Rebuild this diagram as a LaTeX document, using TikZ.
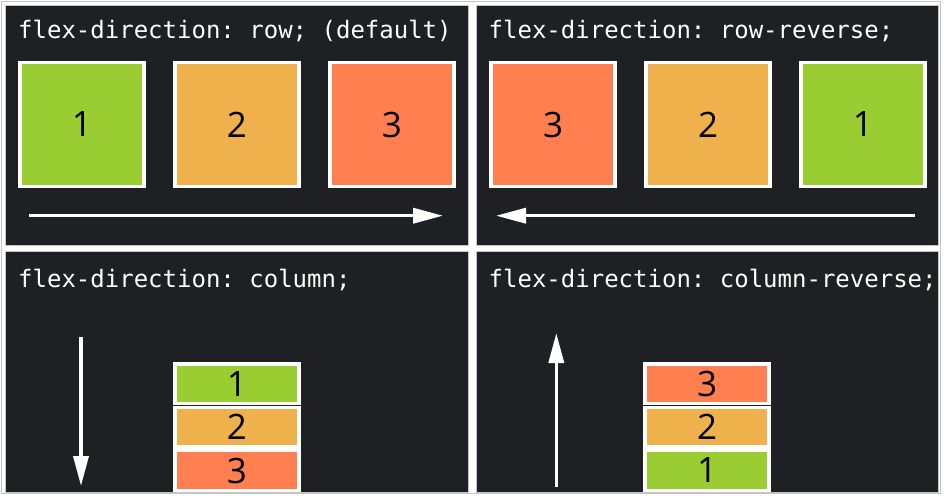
\documentclass[tikz,border=0pt]{standalone}
\usepackage{fontspec}
\setmonofont{DejaVu Sans Mono}
\newfontfamily\digitfont{Open Sans}
\usetikzlibrary{arrows.meta}
\definecolor{panelbg}{HTML}{1F2023}
\definecolor{framegray}{HTML}{C4C4C4}
\definecolor{cgreen}{HTML}{9ACD32}
\definecolor{corange}{HTML}{EEB14C}
\definecolor{ccoral}{HTML}{FF7F50}
\begin{document}
\begin{tikzpicture}[x=1pt,y=-1pt,
  panel/.style={fill=panelbg, draw=framegray, line width=0.8pt},
  box/.style={draw=white, line width=3.5pt, inner sep=0pt, text=black,
    font=\digitfont\fontsize{35}{40}\selectfont},
  sq/.style={box, minimum width=123.9pt, minimum height=123.9pt},
  bar/.style={box, minimum width=123.9pt, minimum height=39.8pt},
  title/.style={anchor=base west, inner sep=0pt, text=white,
    font=\ttfamily\fontsize{24}{28}\selectfont},
  flow/.style={draw=white, line width=3.5pt, -{Triangle[length=30pt,width=15pt]}}]
\fill[white] (0,0) rectangle (944,495);
\useasboundingbox (0,0) rectangle (944,495);
\draw[framegray, line width=1pt] (1.5,1.5) rectangle (940,493);
% panels
\draw[panel] (5,5) rectangle (468,245);
\draw[panel] (476,5) rectangle (938,245);
\draw[panel] (5,251) rectangle (468,492);
\draw[panel] (476,251) rectangle (938,492);
% titles
\node[title] (t1) at (18,39) {flex-direction: row; (default)};
\node[title] (t2) at (488.5,39) {flex-direction: row-reverse;};
\node[title] (t3) at (18,287) {flex-direction: column;};
\node[title] (t4) at (488.5,287) {flex-direction: column-reverse;};
% row
\node[sq, fill=cgreen]  (r1) at (82,124.5) {1};
\node[sq, fill=corange] (r2) at (237,124.5) {2};
\node[sq, fill=ccoral]  (r3) at (391.8,124.5) {3};
% row-reverse
\node[sq, fill=ccoral]  (rr3) at (553,124.5) {3};
\node[sq, fill=corange] (rr2) at (708,124.5) {2};
\node[sq, fill=cgreen]  (rr1) at (862.8,124.5) {1};
% column
\node[bar, fill=cgreen]  (c1) at (237,383.8) {1};
\node[bar, fill=corange] (c2) at (237,427.2) {2};
\node[bar, fill=ccoral]  (c3) at (237,470.5) {3};
% column-reverse
\node[bar, fill=ccoral]  (cr3) at (707,383.8) {3};
\node[bar, fill=corange] (cr2) at (707,427.2) {2};
\node[bar, fill=cgreen]  (cr1) at (707,470.5) {1};
% arrows
\coordinate (aS) at (29,215.7);
\coordinate (aE) at (443,215.7);
\coordinate (bS) at (915,215.7);
\coordinate (bE) at (496,215.7);
\coordinate (cS) at (81,337);
\coordinate (cE) at (81,486);
\coordinate (dS) at (556.3,487);
\coordinate (dE) at (556.3,333);
\draw[flow] (aS) -- (aE);
\draw[flow] (bS) -- (bE);
\draw[flow] (cS) -- (cE);
\draw[flow] (dS) -- (dE);
\end{tikzpicture}
\end{document}
